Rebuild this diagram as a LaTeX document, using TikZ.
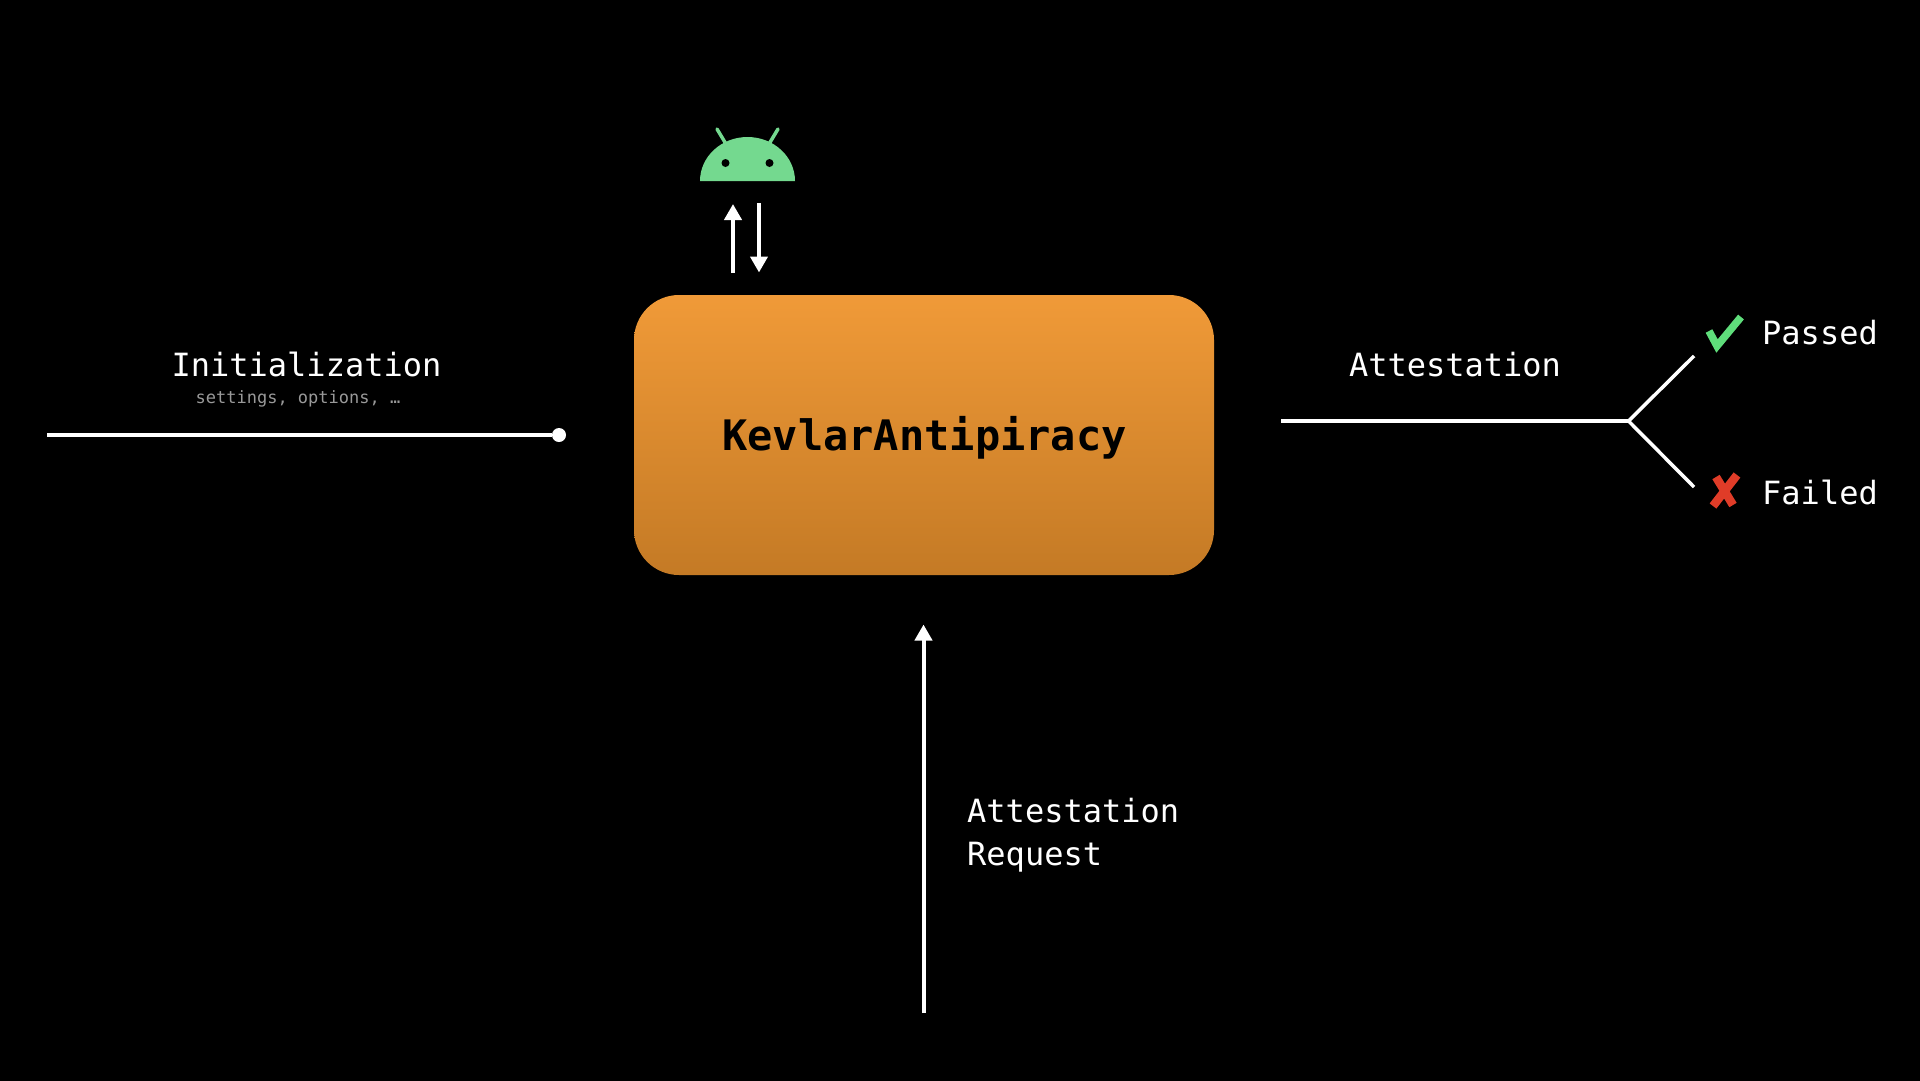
\documentclass[tikz,border=0pt]{standalone}
\usepackage{fontspec}
\setmonofont{DejaVu Sans Mono}
\setmainfont{DejaVu Sans Mono}
\usetikzlibrary{arrows.meta}
\definecolor{boxtop}{HTML}{F09A38}
\definecolor{boxbot}{HTML}{C47A25}
\definecolor{droid}{HTML}{74D98F}
\definecolor{okgreen}{HTML}{5FDD7B}
\definecolor{badred}{HTML}{E03C28}
\tikzset{
  wire/.style={draw=white,line width=4pt},
  arrowline/.style={wire,-{Triangle[width=17pt,length=16pt]}},
  lbl/.style={text=white,inner sep=0pt,font=\fontsize{32}{38}\selectfont},
  sublbl/.style={text=white!60!black,inner sep=0pt,font=\fontsize{17}{20}\selectfont},
  core/.style={rounded corners=45pt,minimum width=580pt,minimum height=280pt,top color=boxtop,bottom color=boxbot,inner sep=0pt,text=black},
}
\begin{document}
\begin{tikzpicture}[x=1pt,y=-1pt]
\useasboundingbox (0,0) rectangle (1920,1080);
\fill[black] (-6,-6) rectangle (1926,1086);
\node[core] (box) at (924,435) {};
\node[text=black,inner sep=0pt,font=\fontsize{42}{50}\selectfont\bfseries] (boxlabel) at (924.5,438) {KevlarAntipiracy};
% android head
\fill[droid] (700,181) arc[start angle=180,end angle=0,x radius=47.5,y radius=-44] -- cycle;
\draw[droid,line width=3.5pt,line cap=round] (726,144) -- (717,129) (769,144) -- (778,129);
\fill[black] (725.5,163) circle[radius=4] (769.5,163) circle[radius=4];
% android arrows
\coordinate (upA) at (733,273); \coordinate (upB) at (733,204);
\coordinate (dnA) at (759,203); \coordinate (dnB) at (759,272.5);
\draw[arrowline] (upA) -- (upB);
\draw[arrowline] (dnA) -- (dnB);
% init
\node[lbl] (init) at (306.5,364) {Initialization};
\node[sublbl] (sett) at (298,399) {settings, options, …};
\coordinate (i1) at (47,435); \node[circle,fill=white,minimum size=14pt,inner sep=0pt] (idot) at (559,435) {};
\draw[wire] (i1) -- (idot);
% attestation
\node[lbl] (att) at (1455,365) {Attestation};
\coordinate (a1) at (1281,421); \coordinate (fork) at (1628.5,421);
\coordinate (p1) at (1694,356); \coordinate (f1) at (1694,487);
\draw[wire] (a1) -- (fork);
\draw[draw=white,line width=3.5pt] (p1) -- (fork) -- (f1);
\draw[okgreen,line width=7.5pt,line join=miter] (1709,331) -- (1717,346) -- (1741,317);
\draw[badred,line width=8.5pt] (1716,477) -- (1733,505) (1737,475) -- (1713,506);
\node[lbl,anchor=west] (pass) at (1762,333) {Passed};
\node[lbl,anchor=west] (fail) at (1762,492) {Failed};
% request
\coordinate (r1) at (923.5,1013); \coordinate (r2) at (923.5,624.5);
\draw[arrowline] (r1) -- (r2);
\node[lbl,anchor=west] (req1) at (967,811) {Attestation};
\node[lbl,anchor=west] (req2) at (967,857.5) {Request};
\end{tikzpicture}
\end{document}
